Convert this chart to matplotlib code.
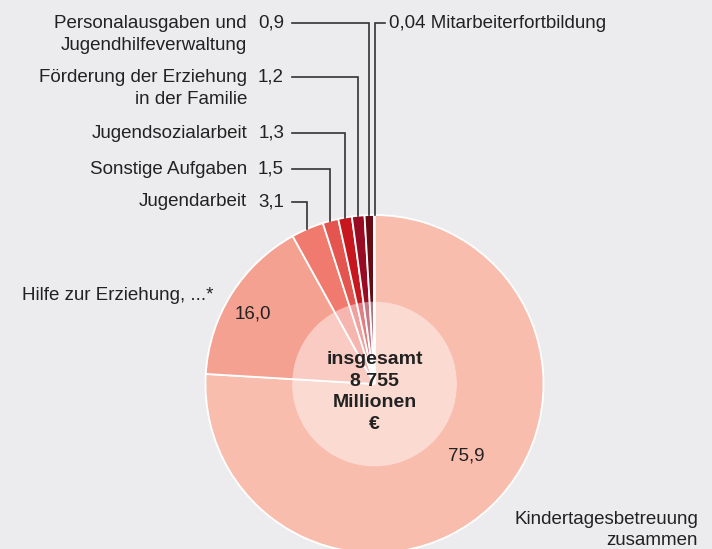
import numpy as np
import matplotlib.pyplot as plt
from matplotlib.patches import Circle

plt.rcParams['font.family'] = ['Liberation Sans', 'DejaVu Sans']

# Anteile an den Ausgaben in Prozent, im Uhrzeigersinn ab 12 Uhr
werte = [75.9, 16.0, 3.1, 1.5, 1.3, 1.2, 0.9, 0.04]
werte_text = ['75,9', '16,0', '3,1', '1,5', '1,3', '1,2', '0,9', '0,04']
bereiche = ['Kindertagesbetreuung\nzusammen',
            'Hilfe zur Erziehung, ...*',
            'Jugendarbeit',
            'Sonstige Aufgaben',
            'Jugendsozialarbeit',
            'Förderung der Erziehung\nin der Familie',
            'Personalausgaben und\nJugendhilfeverwaltung',
            'Mitarbeiterfortbildung']
farben = ['#f9bdae', '#f5a191', '#f07a6e', '#e4554f', '#c8161f',
          '#980b22', '#6a0a15', '#4a0510']

hintergrund = '#ececee'
W, H = 712, 549
cx, cy, R = 374.5, H - 384, 169

fig = plt.figure(figsize=(W / 100, H / 100), dpi=100, facecolor=hintergrund)
ax = fig.add_axes([0, 0, 1, 1])
ax.set_facecolor(hintergrund)

wedges, _ = ax.pie(werte, colors=farben, startangle=90, counterclock=False,
                   center=(cx, cy), radius=R,
                   wedgeprops=dict(edgecolor='white', linewidth=1.3))

# heller Innenkreis mit der Gesamtsumme
ax.add_patch(Circle((cx, cy), R * 0.487, facecolor='white', alpha=0.45,
                    edgecolor='none', zorder=3))
ax.text(cx, H - 392, 'insgesamt\n8 755\nMillionen\n€', ha='center', va='center',
        fontsize=14, fontweight='bold', color='#222222', linespacing=1.38,
        zorder=4)

ax.set_xlim(0, W)
ax.set_ylim(0, H)
ax.set_aspect('equal')
ax.axis('off')

txt = dict(fontsize=13.5, color='#222222')

# Beschriftungen der kleinen Segmente mit Führungslinien nach oben
zeilen_y = {2: 202, 3: 169, 4: 133, 5: 77, 6: 23}
for i, y_img in zeilen_y.items():
    w = wedges[i]
    mitte = np.deg2rad((w.theta1 + w.theta2) / 2)
    x0 = cx + R * np.cos(mitte)
    y0 = cy + R * np.sin(mitte)
    y = H - y_img
    ax.plot([x0, x0, 292], [y0, y, y], color='#333333', lw=1.2,
            solid_joinstyle='miter', zorder=1)
    ax.text(284, y, werte_text[i], ha='right', va='center', **txt)
    ax.text(247, y, bereiche[i].split('\n')[0], ha='right', va='center', **txt)
    if '\n' in bereiche[i]:
        ax.text(247, y - 22.5, bereiche[i].split('\n')[1], ha='right',
                va='center', **txt)

# Mitarbeiterfortbildung, Linie nach rechts
w = wedges[7]
mitte = np.deg2rad((w.theta1 + w.theta2) / 2)
x0 = cx + R * np.cos(mitte) + 0.5
y = H - 23
ax.plot([x0, x0, 385], [cy + R * np.sin(mitte), y, y], color='#333333',
        lw=1.2, solid_joinstyle='miter', zorder=1)
ax.text(389, y, werte_text[7] + ' ' + bereiche[7], ha='left', va='center', **txt)

# große Segmente
ax.text(253, H - 314, werte_text[1], ha='center', va='center', **txt)
ax.text(214, H - 296, bereiche[1], ha='right', va='center', **txt)
ax.text(466, H - 456, werte_text[0], ha='center', va='center', **txt)
ax.text(698, H - 530, bereiche[0], ha='right', va='center', linespacing=1.25,
        **txt)

fig.savefig('out.png', dpi=100, facecolor=hintergrund)
